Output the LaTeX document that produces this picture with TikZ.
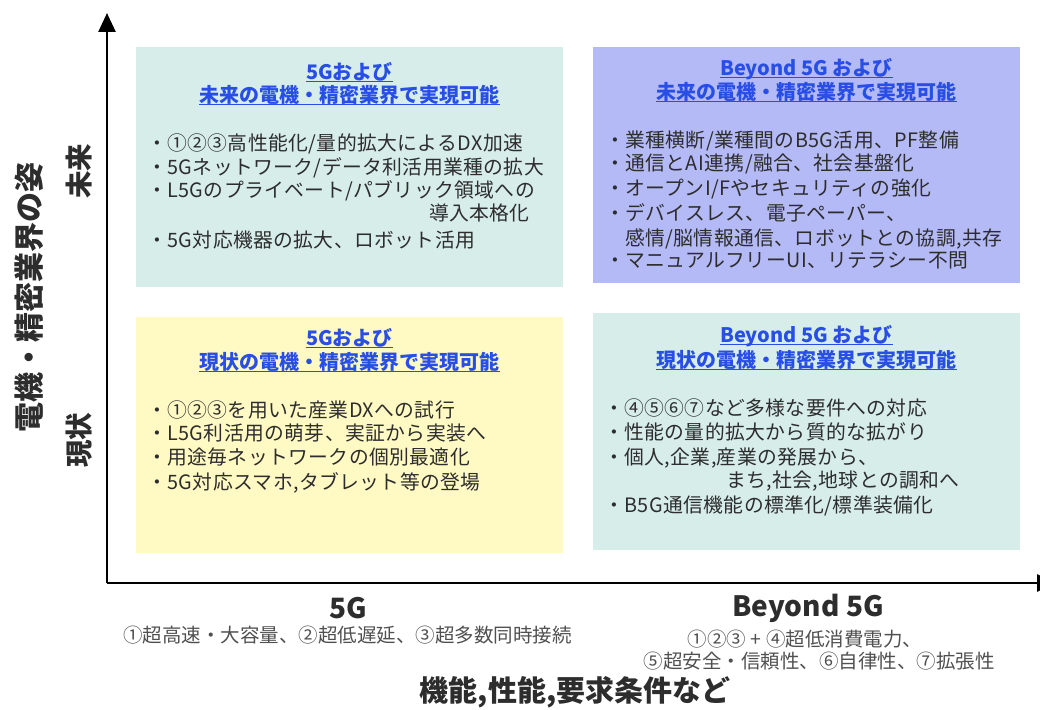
\documentclass[tikz,border=0pt]{standalone}
\usepackage{fontspec}
\setmainfont{Noto Sans CJK JP}
\usetikzlibrary{arrows.meta}
\definecolor{qteal}{RGB}{214,237,234}
\definecolor{qlav}{RGB}{180,186,246}
\definecolor{qyel}{RGB}{255,249,196}
\definecolor{ttlblue}{RGB}{40,78,230}
\definecolor{bodyc}{RGB}{45,45,45}
\definecolor{subc}{RGB}{80,80,80}
\tikzset{
  quad/.style={draw=none, inner sep=0pt, minimum width=427pt, minimum height=237pt},
  ttl/.style={font=\bfseries\fontsize{20}{24}\selectfont, text=ttlblue, inner sep=0pt, anchor=base},
  ul/.style={draw=ttlblue, line width=1.3pt},
  bd/.style={font=\fontsize{19.8}{23}\selectfont\addfontfeatures{LetterSpace=2}, text=bodyc, inner sep=0pt, anchor=base west},
  axis/.style={line width=2.6pt, -{Triangle[width=17pt,length=19pt]}},
  side/.style={font=\bfseries\fontsize{27.5}{30}\selectfont, text=bodyc, inner sep=0pt, rotate=90},
  head/.style={font=\bfseries\fontsize{28}{32}\selectfont, text=bodyc, inner sep=0pt},
  sub/.style={font=\fontsize{19.5}{23}\selectfont, text=subc, inner sep=0pt},
}
\begin{document}
\begin{tikzpicture}[x=1pt,y=-1pt]
\useasboundingbox (0,0) rectangle (1040,709);
% quadrant boxes
\node[quad, fill=qteal, minimum height=239pt] (qTL) at (349.5,167) {};
\node[quad, fill=qlav, minimum width=427pt, minimum height=236pt] (qTR) at (806.5,165) {};
\node[quad, fill=qyel, minimum height=236pt] (qBL) at (349.5,435) {};
\node[quad, fill=qteal, minimum height=237pt] (qBR) at (806.5,431.5) {};
% axes
\coordinate (o) at (107,583);
\coordinate (ytip) at (107,13);
\coordinate (xtip) at (1056,583);
\draw[axis] (o) -- (ytip);
\draw[axis] (o) -- (xtip);
% titles
\node[ttl] (tTL1) at (349.5,79.5) {5Gおよび};
\node[ttl] (tTL2) at (349.5,102.5) {未来の電機・精密業界で実現可能};
\node[ttl] (tTR1) at (806.5,75.5) {Beyond 5G および};
\node[ttl] (tTR2) at (806.5,99.5) {未来の電機・精密業界で実現可能};
\node[ttl] (tBL1) at (349.5,345.5) {5Gおよび};
\node[ttl] (tBL2) at (349.5,369.5) {現状の電機・精密業界で実現可能};
\node[ttl] (tBR1) at (806.5,342.5) {Beyond 5G および};
\node[ttl] (tBR2) at (806.5,367.5) {現状の電機・精密業界で実現可能};
\foreach \t in {tTL1,tTL2,tTR1,tTR2,tBL1,tBL2,tBR1,tBR2}{
  \draw[ul] ([yshift=-2pt]\t.base west) -- ([yshift=-2pt]\t.base east);
}
% TL body
\node[bd] (a1) at (147,150) {・①②③高性能化/量的拡大によるDX加速};
\node[bd] (a2) at (147,174) {・5Gネットワーク/データ利活用業種の拡大};
\node[bd] (a3) at (147,197) {・L5Gのプライベート/パブリック領域への};
\node[bd] (a4) at (429,220) {導入本格化};
\node[bd] (a5) at (147,247) {・5G対応機器の拡大、ロボット活用};
% TR body
\node[bd] (b1) at (605,147) {・業種横断/業種間のB5G活用、PF整備};
\node[bd] (b2) at (605,170) {・通信とAI連携/融合、社会基盤化};
\node[bd] (b3) at (605,195) {・オープンI/Fやセキュリティの強化};
\node[bd] (b4) at (605,220) {・デバイスレス、電子ペーパー、};
\node[bd] (b5) at (625,245) {感情/脳情報通信、ロボットとの協調,共存};
\node[bd] (b6) at (605,267) {・マニュアルフリーUI、リテラシー不問};
% BL body
\node[bd] (c1) at (147,417) {・①②③を用いた産業DXへの試行};
\node[bd] (c2) at (147,440) {・L5G利活用の萌芽、実証から実装へ};
\node[bd] (c3) at (147,464) {・用途毎ネットワークの個別最適化};
\node[bd] (c4) at (147,489) {・5G対応スマホ,タブレット等の登場};
% BR body
\node[bd] (d1) at (604,415) {・④⑤⑥⑦など多様な要件への対応};
\node[bd] (d2) at (604,439) {・性能の量的拡大から質的な拡がり};
\node[bd] (d3) at (604,464) {・個人,企業,産業の発展から、};
\node[bd] (d4) at (726,487) {まち,社会,地球との調和へ};
\node[bd] (d5) at (604,512) {・B5G通信機能の標準化/標準装備化};
% side labels
\node[side, font=\bfseries\fontsize{30}{32}\selectfont] (yl) at (29,297) {電機・精密業界の姿};
\node[side] (fut) at (79,171) {未来};
\node[side] (now) at (79,440) {現状};
% bottom labels
\node[head] (h5g) at (348,608) {5G};
\node[sub] (s5g) at (347.5,635) {①超高速・大容量、②超低遅延、③超多数同時接続};
\node[head] (hb5g) at (808,608) {Beyond 5G};
\node[sub] (sb1) at (805,639) {①②③ + ④超低消費電力、};
\node[sub] (sb2) at (819,661.5) {⑤超安全・信頼性、⑥自律性、⑦拡張性};
\node[head, font=\bfseries\fontsize{29}{32}\selectfont] (xl) at (575,692) {機能,性能,要求条件など};
\end{tikzpicture}
\end{document}
